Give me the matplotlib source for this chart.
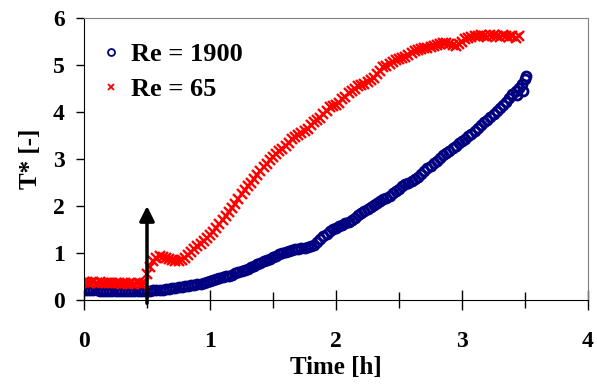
import matplotlib.pyplot as plt
import numpy as np

plt.rcParams['font.family'] = ['Liberation Serif', 'DejaVu Serif']
plt.rcParams['font.weight'] = 'bold'

STEP = 0.025  # sampling interval [h]

blue_label = 'Re = 1900'
blue_vals = [
    0.22, 0.22, 0.21, 0.21, 0.21, 0.2, 0.2, 0.2, 0.2, 0.2,
    0.19, 0.19, 0.19, 0.19, 0.19, 0.19, 0.19, 0.19, 0.19, 0.19,
    0.2, 0.2, 0.21, 0.21, 0.22, 0.22, 0.23, 0.24, 0.25, 0.26,
    0.27, 0.28, 0.29, 0.3, 0.31, 0.32, 0.34, 0.35, 0.37, 0.38,
    0.4, 0.42, 0.44, 0.46, 0.48, 0.5, 0.52, 0.54, 0.57, 0.59,
    0.62, 0.64, 0.67, 0.7, 0.73, 0.76, 0.79, 0.82, 0.85, 0.88,
    0.91, 0.94, 0.97, 1.0, 1.02, 1.04, 1.06, 1.08, 1.09, 1.1,
    1.11, 1.12, 1.14, 1.18, 1.24, 1.3, 1.36, 1.41, 1.46, 1.5,
    1.54, 1.57, 1.6, 1.63, 1.66, 1.7, 1.75, 1.8, 1.85, 1.9,
    1.94, 1.98, 2.02, 2.06, 2.1, 2.14, 2.18, 2.22, 2.27, 2.32,
    2.37, 2.42, 2.46, 2.5, 2.54, 2.58, 2.62, 2.68, 2.74, 2.8,
    2.86, 2.91, 2.96, 3.02, 3.08, 3.13, 3.18, 3.23, 3.28, 3.33,
    3.38, 3.43, 3.48, 3.54, 3.6, 3.66, 3.72, 3.78, 3.84, 3.9,
    3.96, 4.02, 4.08, 4.15, 4.22, 4.3, 4.38, 4.45, 4.52, 4.6,
    4.7,
]
blue_extra_t = [3.44, 3.48, 3.51]
blue_extra_v = [4.36, 4.44, 4.76]

red_label = 'Re = 65'
red_vals = [
    0.38, 0.39, 0.37, 0.38, 0.37, 0.38, 0.36, 0.37, 0.36, 0.37,
    0.36, 0.36, 0.35, 0.36, 0.35, 0.36, 0.35, 0.36, 0.35, 0.37,
    0.55, 0.7, 0.82, 0.9, 0.93, 0.92, 0.9, 0.88, 0.85, 0.83,
    0.83, 0.86, 0.9, 0.96, 1.02, 1.08, 1.14, 1.2, 1.26, 1.32,
    1.38, 1.45, 1.53, 1.61, 1.7, 1.78, 1.87, 1.96, 2.05, 2.14,
    2.25, 2.33, 2.42, 2.5, 2.58, 2.66, 2.74, 2.82, 2.9, 2.97,
    3.04, 3.1, 3.16, 3.22, 3.28, 3.35, 3.42, 3.47, 3.52, 3.56,
    3.6, 3.64, 3.72, 3.79, 3.84, 3.88, 3.95, 4.02, 4.1, 4.12,
    4.14, 4.2, 4.27, 4.33, 4.4, 4.45, 4.5, 4.55, 4.58, 4.6,
    4.64, 4.68, 4.72, 4.8, 4.88, 4.95, 4.98, 5.02, 5.06, 5.1,
    5.12, 5.15, 5.18, 5.22, 5.26, 5.29, 5.32, 5.34, 5.36, 5.37,
    5.38, 5.4, 5.42, 5.44, 5.46, 5.47, 5.45, 5.42, 5.4, 5.44,
    5.5, 5.55, 5.57, 5.6, 5.61, 5.62, 5.64, 5.62, 5.6, 5.63,
    5.64, 5.62, 5.6, 5.63, 5.62, 5.6, 5.62, 5.58, 5.62,
]

arrow_time = 0.5
arrow_top = 2.0

blue_t = np.arange(len(blue_vals)) * STEP
red_t = np.arange(len(red_vals)) * STEP

fig = plt.figure(figsize=(5.97, 3.85), dpi=100)
ax = fig.add_axes([0.1407, 0.2208, 0.8443, 0.7324])

ax.plot(np.concatenate([blue_t, blue_extra_t]), blue_vals + blue_extra_v,
        linestyle='none', marker='o', markersize=6.5, markerfacecolor='none',
        markeredgecolor='#000080', markeredgewidth=2.0, label=blue_label)
ax.plot(red_t, red_vals, linestyle='none', marker='x', markersize=7.5,
        color='#ff0000', markeredgewidth=1.7, label=red_label)

ax.annotate('', xy=(arrow_time, arrow_top), xytext=(arrow_time, -0.07),
            arrowprops=dict(arrowstyle='-|>', lw=2.5, color='black',
                            mutation_scale=22, shrinkA=0, shrinkB=0))

ax.set_xlim(0, 4)
ax.set_ylim(0, 6)
ax.set_xticks([0, 1, 2, 3, 4])
ax.set_xticks([0.5, 1.5, 2.5, 3.5], minor=True)
ax.set_yticks([0, 1, 2, 3, 4, 5, 6])

ax.tick_params(axis='x', which='major', direction='inout', length=14,
               width=1, pad=15, labelsize=17)
ax.tick_params(axis='x', which='minor', direction='inout', length=12,
               width=1)
ax.tick_params(axis='y', direction='out', length=6, width=1, pad=8,
               labelsize=17)

for side in ['top', 'right']:
    ax.spines[side].set_color('#808080')
ax.spines['left'].set_color('black')
ax.spines['bottom'].set_color('black')

ax.set_xlabel('Time [h]', fontsize=18, fontweight='bold', labelpad=3)
ax.set_ylabel('T* [-]', fontsize=18, fontweight='bold', labelpad=8)

leg = ax.legend(loc='upper left', bbox_to_anchor=(0.012, 0.95),
                frameon=False, fontsize=19, handlelength=0.8,
                handletextpad=0.35, labelspacing=0.45, borderaxespad=0)
for h in leg.legend_handles:
    h.set_markersize(5)
    h.set_markeredgewidth(1.3)

fig.savefig('out.png', dpi=100)
